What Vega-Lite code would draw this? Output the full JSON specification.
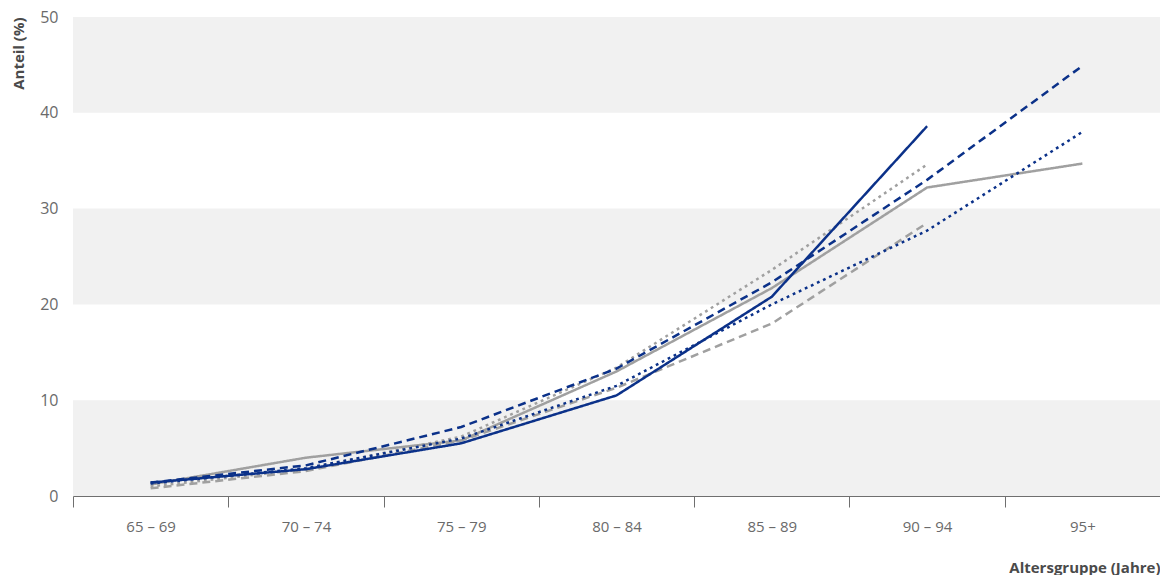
{
  "$schema": "https://vega.github.io/schema/vega-lite/v6.json",
  "autosize": "none",
  "width": 1087,
  "height": 479,
  "padding": {"left": 73, "top": 17, "right": 0, "bottom": 79},
  "background": "#ffffff",
  "config": {"view": {"stroke": null}, "font": "Open Sans"},
  "datasets": {
    "baender": [
      {"von": 0, "bis": 10},
      {"von": 20, "bis": 30},
      {"von": 40, "bis": 50}
    ],
    "werte": [
      {"gruppe": "65 – 69", "serie": "Serie 1", "wert": 1.2},
      {"gruppe": "70 – 74", "serie": "Serie 1", "wert": 4.0},
      {"gruppe": "75 – 79", "serie": "Serie 1", "wert": 5.8},
      {"gruppe": "80 – 84", "serie": "Serie 1", "wert": 13.0},
      {"gruppe": "85 – 89", "serie": "Serie 1", "wert": 21.7},
      {"gruppe": "90 – 94", "serie": "Serie 1", "wert": 32.2},
      {"gruppe": "95+", "serie": "Serie 1", "wert": 34.7},

      {"gruppe": "65 – 69", "serie": "Serie 2", "wert": 0.8},
      {"gruppe": "70 – 74", "serie": "Serie 2", "wert": 2.6},
      {"gruppe": "75 – 79", "serie": "Serie 2", "wert": 5.8},
      {"gruppe": "80 – 84", "serie": "Serie 2", "wert": 11.3},
      {"gruppe": "85 – 89", "serie": "Serie 2", "wert": 18.0},
      {"gruppe": "90 – 94", "serie": "Serie 2", "wert": 28.5},

      {"gruppe": "65 – 69", "serie": "Serie 3", "wert": 1.0},
      {"gruppe": "70 – 74", "serie": "Serie 3", "wert": 2.8},
      {"gruppe": "75 – 79", "serie": "Serie 3", "wert": 6.2},
      {"gruppe": "80 – 84", "serie": "Serie 3", "wert": 13.4},
      {"gruppe": "85 – 89", "serie": "Serie 3", "wert": 23.6},
      {"gruppe": "90 – 94", "serie": "Serie 3", "wert": 34.6},

      {"gruppe": "65 – 69", "serie": "Serie 4", "wert": 1.4},
      {"gruppe": "70 – 74", "serie": "Serie 4", "wert": 2.8},
      {"gruppe": "75 – 79", "serie": "Serie 4", "wert": 5.5},
      {"gruppe": "80 – 84", "serie": "Serie 4", "wert": 10.5},
      {"gruppe": "85 – 89", "serie": "Serie 4", "wert": 20.8},
      {"gruppe": "90 – 94", "serie": "Serie 4", "wert": 38.6},

      {"gruppe": "65 – 69", "serie": "Serie 5", "wert": 1.4},
      {"gruppe": "70 – 74", "serie": "Serie 5", "wert": 3.2},
      {"gruppe": "75 – 79", "serie": "Serie 5", "wert": 7.2},
      {"gruppe": "80 – 84", "serie": "Serie 5", "wert": 13.3},
      {"gruppe": "85 – 89", "serie": "Serie 5", "wert": 22.3},
      {"gruppe": "90 – 94", "serie": "Serie 5", "wert": 33.0},
      {"gruppe": "95+", "serie": "Serie 5", "wert": 44.9},

      {"gruppe": "65 – 69", "serie": "Serie 6", "wert": 1.3},
      {"gruppe": "70 – 74", "serie": "Serie 6", "wert": 2.9},
      {"gruppe": "75 – 79", "serie": "Serie 6", "wert": 6.0},
      {"gruppe": "80 – 84", "serie": "Serie 6", "wert": 11.5},
      {"gruppe": "85 – 89", "serie": "Serie 6", "wert": 20.0},
      {"gruppe": "90 – 94", "serie": "Serie 6", "wert": 27.7},
      {"gruppe": "95+", "serie": "Serie 6", "wert": 38.0}
    ]
  },
  "layer": [
    {
      "data": {"name": "baender"},
      "mark": {"type": "rect", "color": "#f1f1f1"},
      "encoding": {
        "y": {"field": "von", "type": "quantitative"},
        "y2": {"field": "bis"}
      }
    },
    {
      "data": {"name": "werte"},
      "mark": {"type": "line", "strokeWidth": 2.5, "strokeCap": "butt"},
      "encoding": {
        "x": {
          "field": "gruppe",
          "type": "ordinal",
          "sort": ["65 – 69", "70 – 74", "75 – 79", "80 – 84", "85 – 89", "90 – 94", "95+"],
          "bandPosition": 0.5,
          "scale": {"type": "band", "paddingInner": 0, "paddingOuter": 0},
          "axis": {
            "title": "Altersgruppe (Jahre)",
            "titleFont": "Open Sans",
            "titleFontSize": 15,
            "titleFontWeight": "bold",
            "titleColor": "#4a4a4a",
            "titleAnchor": "end",
            "titleAlign": "right",
            "titleX": 1087,
            "titleY": 76,
            "titleBaseline": "alphabetic",
            "labelAngle": 0,
            "labelFontSize": 15,
            "labelColor": "#6a6a6a",
            "labelPadding": 12,
            "tickBand": "extent",
            "tickSize": 11,
            "tickColor": "#6f6f6f",
            "tickWidth": 1,
            "domainColor": "#6f6f6f",
            "domainWidth": 1,
            "grid": false
          }
        },
        "y": {
          "field": "wert",
          "type": "quantitative",
          "scale": {"domain": [0, 50], "nice": false},
          "axis": {
            "title": "Anteil (%)",
            "titleFont": "Open Sans",
            "titleFontSize": 15,
            "titleFontWeight": "bold",
            "titleColor": "#4a4a4a",
            "titleAngle": -90,
            "titleAlign": "right",
            "titleBaseline": "middle",
            "titleX": -55,
            "titleY": 0,
            "values": [0, 10, 20, 30, 40, 50],
            "labelFontSize": 16,
            "labelColor": "#6a6a6a",
            "labelPadding": 15,
            "ticks": false,
            "domain": false,
            "grid": false
          }
        },
        "detail": {"field": "serie"},
        "color": {
          "field": "serie",
          "type": "nominal",
          "scale": {
            "domain": ["Serie 1", "Serie 2", "Serie 3", "Serie 4", "Serie 5", "Serie 6"],
            "range": ["#a0a0a0", "#a0a0a0", "#a0a0a0", "#0b3189", "#0b3189", "#0b3189"]
          },
          "legend": null
        },
        "strokeDash": {
          "field": "serie",
          "type": "nominal",
          "scale": {
            "domain": ["Serie 1", "Serie 2", "Serie 3", "Serie 4", "Serie 5", "Serie 6"],
            "range": [[1, 0], [8, 5], [2.8, 3.9], [1, 0], [8, 5], [2.8, 3.9]]
          },
          "legend": null
        }
      }
    }
  ]
}
